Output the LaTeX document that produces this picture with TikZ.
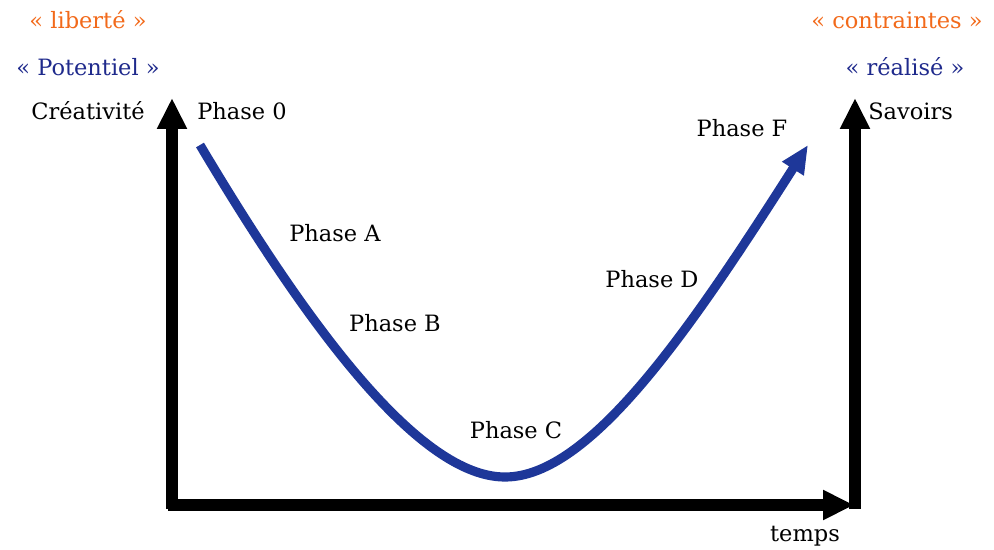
\documentclass[tikz,border=0pt]{standalone}
\usepackage{fontspec}
\setmainfont{DejaVu Serif}
\usetikzlibrary{arrows.meta, positioning}
\usepackage{xcolor}
\definecolor{PhaseBlue}{HTML}{1E3799}
\definecolor{LabelBlue}{HTML}{1F2A8C}
\definecolor{LabelOrange}{HTML}{F26A1B}
\definecolor{AxisBlack}{HTML}{000000}
\tikzset{
    % Text styles
    label/.style={
        font=\fontsize{16}{19}\selectfont,
        text=AxisBlack,
        inner sep=0pt
    },
    orangelabel/.style={
        label,
        text=LabelOrange
    },
    bluelabel/.style={
        label,
        text=LabelBlue
    },
    % Arrow styles
    axis/.style={
        -{Triangle[length=22pt,width=20pt]},
        line width=8pt,
        draw=AxisBlack
    },
    curve/.style={
        -{Triangle[length=20pt,width=17pt]},
        line width=6.5pt,
        draw=PhaseBlue
    }
}

\begin{document}
\begin{tikzpicture}[x=0.025cm, y=-0.025cm]
    \useasboundingbox (0,0) rectangle (994,549);

    % Axes
    \coordinate (lbot) at (172,509);
    \coordinate (ytop) at (172,98);
    \coordinate (rbot) at (855,509);
    \coordinate (rtop) at (855,98);
    \coordinate (xstart) at (168,505);
    \coordinate (xend) at (854,505);
    \draw[axis] (lbot) -- (ytop);
    \draw[axis] (rbot) -- (rtop);
    \draw[axis] (xstart) -- (xend);

    % Curve of the phases
    \coordinate (start) at (200,145);
    \coordinate (bottom) at (505,477);
    \coordinate (finish) at (808,145);
    \draw[curve] (start) .. controls (310,330) and (420,477) .. (bottom)
        .. controls (590,477) and (690,330) .. (finish);

    % Left labels
    \node[orangelabel] (liberte) at (88,20) {«~liberté~»};
    \node[bluelabel] (potentiel) at (88,67) {«~Potentiel~»};
    \node[label] (creativite) at (88,111) {Créativité};
    \node[label, anchor=west] (phase0) at (197,111) {Phase 0};

    % Right labels
    \node[orangelabel] (contraintes) at (897,20) {«~contraintes~»};
    \node[bluelabel] (realise) at (905,67) {«~réalisé~»};
    \node[label, anchor=west] (savoirs) at (868,111) {Savoirs};

    % Phase labels
    \node[label] (phaseA) at (335,233) {Phase A};
    \node[label] (phaseB) at (395,323) {Phase B};
    \node[label] (phaseC) at (516,430) {Phase C};
    \node[label] (phaseD) at (652,279) {Phase D};
    \node[label] (phaseF) at (742,128) {Phase F};
    \node[label] (temps) at (805,536) {temps};
\end{tikzpicture}
\end{document}
